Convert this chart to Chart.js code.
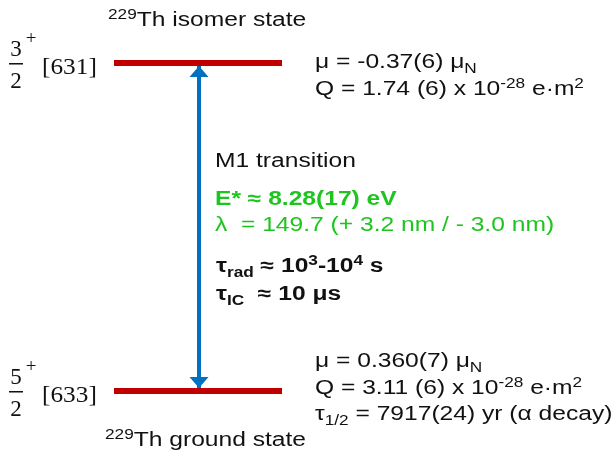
<!DOCTYPE html>
<html>
<head>
<meta charset="utf-8">
<script src="https://cdn.jsdelivr.net/npm/chart.js@4.4.0/dist/chart.umd.min.js"></script>
<style>
  html, body { margin: 0; padding: 0; background: #fff; }
  #wrap { width: 616px; height: 457px; }
</style>
</head>
<body>
<div id="wrap"><canvas id="levels"></canvas></div>
<script>
// 229Th nuclear levels (index 0 = isomer, 1 = ground)
const massNumber = '229';
const stateNames = ['Th isomer state', 'Th ground state'];
const energies = [8.28, 0];            // eV
const spinNum = ['3', '5'];
const spinDen = ['2', '2'];
const parity = ['+', '+'];
const nilsson = ['[631]', '[633]'];
const magMoment = ['-0.37(6)', '0.360(7)'];
const quadMoment = ['1.74 (6)', '3.11 (6)'];
const halfLife = [null, '7917(24) yr'];

// transition
const transType = 'M1';
const transEnergy = '8.28(17)';
const transWavelength = '149.7 (+ 3.2 nm / - 3.0 nm)';
const tauRadExp = ['3', '4'];
const tauIC = '10 μs';

const INK = '#111';
const GREEN = '#1fc51f';
const SANS = '"Liberation Sans", Arial, sans-serif';
const SERIF = '"Liberation Serif", "Times New Roman", serif';
const SX = 1.23;   // text in the original is stretched horizontally

// draws a row of text runs; a run is a string or [text, 'sup'|'sub']
const drawRuns = (ctx, x, y, runs, o = {}) => {
  const size = o.size || 20;
  ctx.save();
  ctx.translate(x, y);
  ctx.scale(o.sx || SX, 1);
  ctx.fillStyle = o.color || INK;
  ctx.textBaseline = 'alphabetic';
  ctx.textAlign = 'left';
  let cx = 0;
  runs.forEach(r => {
    const [t, k] = Array.isArray(r) ? r : [r, ''];
    const small = k === 'sup' || k === 'sub';
    const fs = small ? Math.round(size * 0.7) : size;
    ctx.font = `${o.bold ? 'bold ' : ''}${fs}px ${o.family || SANS}`;
    const dy = k === 'sup' ? -size * 0.36 : k === 'sub' ? size * 0.24 : 0;
    ctx.fillText(t, cx, dy);
    cx += ctx.measureText(t).width;
  });
  ctx.restore();
};

const levelX = [114, 282];
const arrowX = 199;

const labelsPlugin = {
  id: 'levelLabels',
  afterDatasetsDraw(chart) {
    const { ctx, scales: { x, y } } = chart;
    const ax = x.getPixelForValue(arrowX);
    const yTop = y.getPixelForValue(energies[0]);
    const yBot = y.getPixelForValue(energies[1]);

    // arrow heads
    ctx.save();
    ctx.fillStyle = '#0070c0';
    [[yTop + 3, 1], [yBot - 3, -1]].forEach(([tip, dir]) => {
      ctx.beginPath();
      ctx.moveTo(ax, tip);
      ctx.lineTo(ax - 9.5, tip + dir * 11);
      ctx.lineTo(ax + 9.5, tip + dir * 11);
      ctx.closePath();
      ctx.fill();
    });
    ctx.restore();

    energies.forEach((e, i) => {
      const yl = y.getPixelForValue(e);
      const top = i === 0;
      // spin / parity fraction and Nilsson label
      ctx.save();
      ctx.fillStyle = INK;
      ctx.font = `23px ${SERIF}`;
      ctx.textAlign = 'center';
      ctx.fillText(spinNum[i], 16, yl - 7);
      ctx.fillText(spinDen[i], 16, yl + 25);
      ctx.fillRect(9, yl, 14, 1.5);
      ctx.font = `19px ${SERIF}`;
      ctx.fillText(parity[i], 31, yl - 19);
      ctx.restore();
      drawRuns(ctx, 42, yl + 11, [nilsson[i]], { size: 23, family: SERIF, sx: 1.1 });

      // state name
      const ny = top ? yl - 37 : yl + 55;
      drawRuns(ctx, top ? 108 : 105, ny, [[massNumber, 'sup'], stateNames[i]]);

      // moments
      const py = top ? yl + 5 : yl - 24;
      drawRuns(ctx, 315, py, ['μ = ' + magMoment[i] + ' μ', ['N', 'sub']]);
      drawRuns(ctx, 315, py + 27, ['Q = ' + quadMoment[i] + ' x 10', ['-28', 'sup'], ' e·m', ['2', 'sup']]);
      if (halfLife[i]) {
        drawRuns(ctx, 315, py + 53, ['τ', ['1/2', 'sub'], ' = ' + halfLife[i] + ' (α decay)']);
      }
    });

    // transition block
    drawRuns(ctx, 215, 167, [transType + ' transition']);
    drawRuns(ctx, 215, 205, ['E* ≈ ' + transEnergy + ' eV'], { bold: true, color: GREEN });
    drawRuns(ctx, 215, 231, ['λ  = ' + transWavelength], { color: GREEN });
    drawRuns(ctx, 216, 272, ['τ', ['rad', 'sub'], ' ≈ 10', [tauRadExp[0], 'sup'], '-10', [tauRadExp[1], 'sup'], ' s'], { bold: true });
    drawRuns(ctx, 216, 300, ['τ', ['IC', 'sub'], '  ≈ ' + tauIC], { bold: true });
  }
};

const levelSets = energies.map(e => ({
  data: [{ x: levelX[0], y: e }, { x: levelX[1], y: e }],
  borderColor: '#c00000',
  borderWidth: 6,
  borderCapStyle: 'butt',
  pointRadius: 0,
  order: 1,
}));

const arrowSet = {
  data: energies.map(e => ({ x: arrowX, y: e })),
  borderColor: '#0070c0',
  borderWidth: 4,
  borderCapStyle: 'butt',
  pointRadius: 0,
  order: 2,
};

new Chart(document.getElementById('levels'), {
  type: 'scatter',
  data: { datasets: [...levelSets, arrowSet] },
  options: {
    responsive: true,
    maintainAspectRatio: false,
    animation: false,
    events: [],
    showLine: true,
    layout: { padding: 0 },
    plugins: { legend: { display: false }, tooltip: { enabled: false } },
    scales: {
      x: { type: 'linear', min: 0, max: 616, display: false },
      y: { type: 'linear', min: -1.666, max: 9.871, display: false },
    },
  },
  plugins: [labelsPlugin],
});
</script>
</body>
</html>
